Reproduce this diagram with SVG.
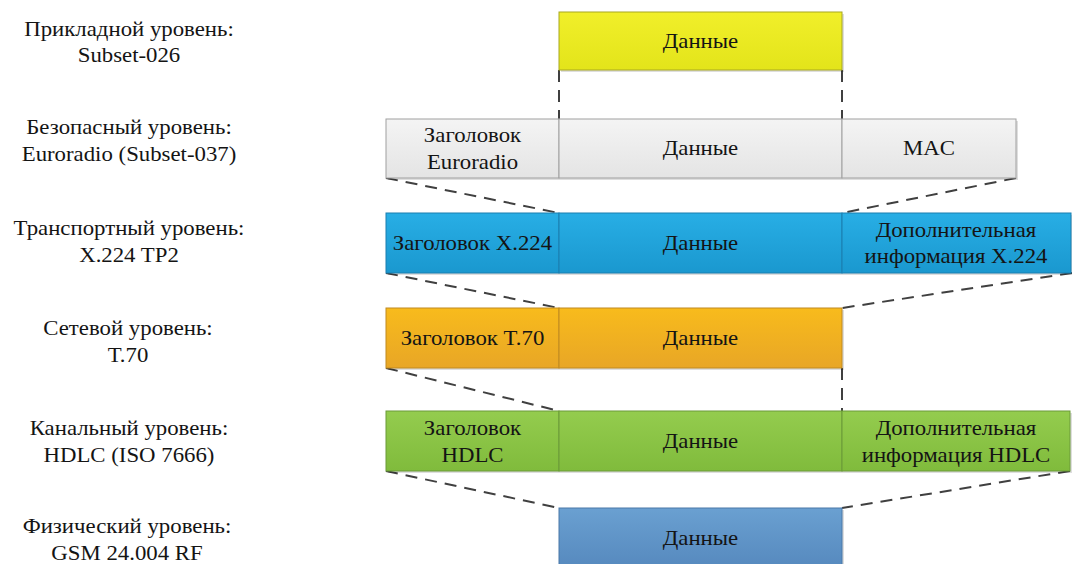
<svg xmlns="http://www.w3.org/2000/svg" width="1072" height="564" viewBox="0 0 1072 564">
<style>
.t{font-family:"Liberation Serif","Times New Roman",serif;font-size:20px;fill:#141414;text-anchor:middle}
.dash{stroke:#404040;stroke-width:2;stroke-dasharray:12 8;fill:none}
.sh{fill:#000;fill-opacity:0.13}
.y{fill:url(#gy);stroke:#a8a820}
.g{fill:url(#gg);stroke:#a0a0a0}
.b{fill:url(#gb);stroke:#1b7fb0}
.o{fill:url(#go);stroke:#c08a20}
.gr{fill:url(#ggr);stroke:#6a9a38}
.bb{fill:url(#gbb);stroke:#4a78a8}
</style>
<defs>
<linearGradient id="gy" x1="0" y1="0" x2="0" y2="1"><stop offset="0" stop-color="#f1ef2a"/><stop offset="1" stop-color="#e3e41a"/></linearGradient>
<linearGradient id="gg" x1="0" y1="0" x2="0" y2="1"><stop offset="0" stop-color="#f4f4f4"/><stop offset="1" stop-color="#e4e4e4"/></linearGradient>
<linearGradient id="gb" x1="0" y1="0" x2="0" y2="1"><stop offset="0" stop-color="#28aee5"/><stop offset="1" stop-color="#1a98cf"/></linearGradient>
<linearGradient id="go" x1="0" y1="0" x2="0" y2="1"><stop offset="0" stop-color="#f8bb1c"/><stop offset="1" stop-color="#e8a626"/></linearGradient>
<linearGradient id="ggr" x1="0" y1="0" x2="0" y2="1"><stop offset="0" stop-color="#94cc4e"/><stop offset="1" stop-color="#80bb3c"/></linearGradient>
<linearGradient id="gbb" x1="0" y1="0" x2="0" y2="1"><stop offset="0" stop-color="#6aa0d1"/><stop offset="1" stop-color="#5689be"/></linearGradient>
</defs>

<g id="labels">
<g class="t" transform="scale(1.14,1)">
<text x="113.16" y="36">Прикладной уровень:</text>
<text x="113.16" y="62">Subset-026</text>
<text x="113.16" y="134">Безопасный уровень:</text>
<text x="113.16" y="161">Euroradio (Subset-037)</text>
<text x="113.16" y="235">Транспортный уровень:</text>
<text x="113.16" y="262">X.224 TP2</text>
<text x="112.28" y="335">Сетевой уровень:</text>
<text x="112.28" y="362">T.70</text>
<text x="113.16" y="435">Канальный уровень:</text>
<text x="113.16" y="462">HDLC (ISO 7666)</text>
<text x="111.4" y="533">Физический уровень:</text>
<text x="111.4" y="560">GSM 24.004 RF</text>
</g>
</g>

<g id="connectors">
<line class="dash" x1="559" y1="70" x2="559" y2="119"/>
<line class="dash" x1="842" y1="70" x2="842" y2="119"/>
<line class="dash" x1="386" y1="178" x2="559" y2="213"/>
<line class="dash" x1="1016" y1="178" x2="842" y2="213"/>
<line class="dash" x1="386" y1="273" x2="559" y2="308"/>
<line class="dash" x1="1072" y1="273" x2="842" y2="308"/>
<line class="dash" x1="386" y1="368" x2="559" y2="411"/>
<line class="dash" x1="842" y1="368" x2="842" y2="411"/>
<line class="dash" x1="386" y1="471" x2="559" y2="508"/>
<line class="dash" x1="1070" y1="471" x2="842" y2="508"/>
</g>

<g id="app-data">
<rect class="sh" x="561" y="14" width="283" height="58"/>
<rect class="y" x="559" y="12" width="283" height="58"/>
<g class="t" transform="scale(1.14,1)"><text x="614.47" y="48">Данные</text></g>
</g>

<g id="euroradio">
<rect class="sh" x="388" y="121" width="630" height="59"/>
<rect class="g" x="386" y="119" width="173" height="59"/>
<rect class="g" x="559" y="119" width="283" height="59"/>
<rect class="g" x="842" y="119" width="174" height="59"/>
<g class="t" transform="scale(1.14,1)">
<text x="414.47" y="142">Заголовок</text>
<text x="414.47" y="169">Euroradio</text>
<text x="614.47" y="155">Данные</text>
<text x="814.91" y="155">MAC</text>
</g>
</g>

<g id="x224">
<rect class="sh" x="388" y="215" width="686" height="60"/>
<rect class="b" x="386" y="213" width="173" height="60"/>
<rect class="b" x="559" y="213" width="283" height="60"/>
<rect class="b" x="842" y="213" width="229" height="60"/>
<g class="t" transform="scale(1.14,1)">
<text x="414.47" y="250">Заголовок X.224</text>
<text x="614.47" y="250">Данные</text>
<text x="838.6" y="237">Дополнительная</text>
<text x="838.6" y="263">информация X.224</text>
</g>
</g>

<g id="t70">
<rect class="sh" x="388" y="310" width="456" height="60"/>
<rect class="o" x="386" y="308" width="173" height="60"/>
<rect class="o" x="559" y="308" width="283" height="60"/>
<g class="t" transform="scale(1.14,1)">
<text x="414.47" y="345">Заголовок T.70</text>
<text x="614.47" y="345">Данные</text>
</g>
</g>

<g id="hdlc">
<rect class="sh" x="388" y="413" width="686" height="60"/>
<rect class="gr" x="386" y="411" width="173" height="60"/>
<rect class="gr" x="559" y="411" width="283" height="60"/>
<rect class="gr" x="842" y="411" width="228" height="60"/>
<g class="t" transform="scale(1.14,1)">
<text x="414.47" y="435">Заголовок</text>
<text x="414.47" y="462">HDLC</text>
<text x="614.47" y="448">Данные</text>
<text x="838.6" y="435">Дополнительная</text>
<text x="838.6" y="462">информация HDLC</text>
</g>
</g>

<g id="phys-data">
<rect class="sh" x="561" y="510" width="283" height="60"/>
<rect class="bb" x="559" y="508" width="283" height="60"/>
<g class="t" transform="scale(1.14,1)"><text x="614.47" y="545">Данные</text></g>
</g>
</svg>
